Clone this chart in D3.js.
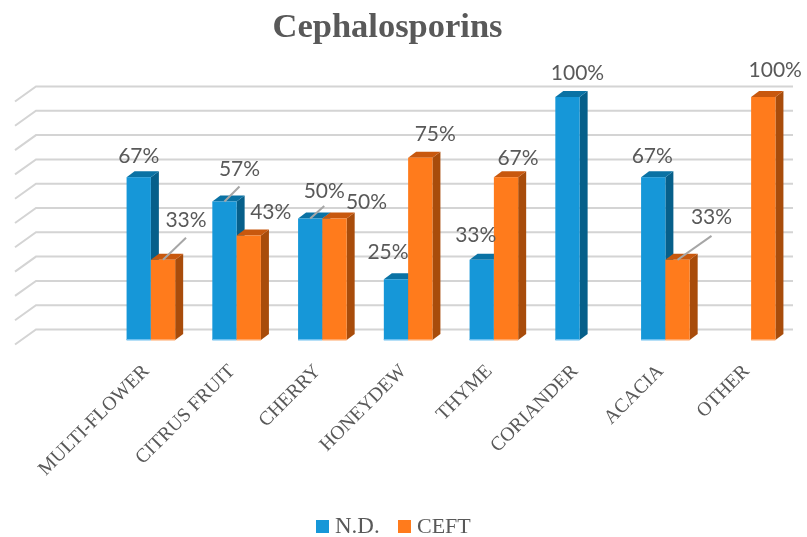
<!DOCTYPE html>
<html>
<head>
<meta charset="utf-8">
<script src="https://cdn.jsdelivr.net/npm/d3@7"></script>
<style>
  html, body { margin: 0; padding: 0; background: #fff; overflow: hidden; }
  svg { filter: blur(0.45px); }
</style>
</head>
<body>
<div id="chart"></div>
<script>
const categories = ["MULTI-FLOWER", "CITRUS FRUIT", "CHERRY", "HONEYDEW", "THYME", "CORIANDER", "ACACIA", "OTHER"];
const seriesNames = ["N.D.", "CEFT"];
const ndValues = [67, 57, 50, 25, 33, 100, 67, 0];
const ceftValues = [33, 43, 50, 75, 67, 0, 33, 100];

const width = 807, height = 537;
const depthX = 8, depthY = 6;
const serif = "'Liberation Serif', serif";
const textColor = "#595959";

const colors = {
    "N.D.": {front: "#1697d8", side: "#065f8a", top: "#0a72a4", edge: "#6cc0f0"},
    "CEFT": {front: "#ff7b1c", side: "#a84c0b", top: "#c8580e", edge: "#ffa566"}
};

const svg = d3.select("#chart")
  .append("svg")
    .attr("width", width)
    .attr("height", height)
    .style("display", "block");

// Scales
const x = d3.scaleBand().domain(categories).range([108, 794]);
const xSeries = d3.scaleBand().domain(seriesNames).range([0, x.bandwidth()]).paddingOuter(0.765).paddingInner(0);
const y = d3.scaleLinear().domain([0, 100]).range([340, 97]);

svg.append("text")
    .attr("x", 387.5)
    .attr("y", 37)
    .attr("text-anchor", "middle")
    .attr("font-family", serif)
    .attr("font-weight", "bold")
    .attr("font-size", 34.5)
    .attr("fill", textColor)
    .text("Cephalosporins");

// back wall lines and the slanted floor part
const grid = svg.append("g")
    .attr("fill", "none")
    .attr("stroke", "#d4d4d4")
    .attr("stroke-width", 2);

y.ticks(10).forEach(t => {
    const yb = y(t) - 10.5;
    grid.append("path").attr("d", `M15,${yb + 15}L36,${yb}L793,${yb}`);
});

// bars, N.D. first so CEFT sits over its side face
const seriesValues = {"N.D.": ndValues, "CEFT": ceftValues};

seriesNames.forEach(name => {
    const c = colors[name];
    const g = svg.append("g");
    categories.forEach((cat, i) => {
        const v = seriesValues[name][i];
        if (v === 0) return;
        const x0 = x(cat) + xSeries(name);
        const x1 = x0 + xSeries.bandwidth();
        const yTop = y(v), yBase = y(0);
        g.append("path").attr("fill", c.side)
            .attr("d", `M${x1},${yTop}L${x1 + depthX},${yTop - depthY}L${x1 + depthX},${yBase - depthY}L${x1},${yBase}Z`);
        g.append("path").attr("fill", c.top)
            .attr("d", `M${x0},${yTop}L${x0 + depthX},${yTop - depthY}L${x1 + depthX},${yTop - depthY}L${x1},${yTop}Z`);
        g.append("rect").attr("fill", c.front)
            .attr("x", x0).attr("y", yTop)
            .attr("width", xSeries.bandwidth()).attr("height", yBase - yTop);
        g.append("rect").attr("fill", c.edge)
            .attr("x", x0).attr("y", yBase - 1)
            .attr("width", xSeries.bandwidth()).attr("height", 1.5);
    });
});

// label placement relative to the top of each bar: [dx, dy, leader end dx, leader end dy]
const ndLabelPlace = [[0, -14.5], [15, -25, 15, -15], [14, -21, 14, -12.5], [-8, -20.5], [-6, -17.5], [10, -17], [-1, -14.5], null];
const ceftLabelPlace = [[23, -32.5, 23, -22], [22, -16.5], [32, -9.5], [15, -17], [12, -12.5], null, [34, -36, 34, -24], [12, -20]];
const labelPlace = {"N.D.": ndLabelPlace, "CEFT": ceftLabelPlace};

const labels = svg.append("g")
    .attr("font-family", "Lato, sans-serif")
    .attr("font-size", 21)
    .attr("fill", textColor)
    .attr("text-anchor", "middle");

seriesNames.forEach(name => {
    categories.forEach((cat, i) => {
        const v = seriesValues[name][i];
        if (v === 0) return;
        const p = labelPlace[name][i];
        const cx = x(cat) + xSeries(name) + xSeries.bandwidth() / 2;
        const cy = y(v);
        if (p.length > 2) {
            labels.append("line")
                .attr("x1", cx).attr("y1", cy)
                .attr("x2", cx + p[2]).attr("y2", cy + p[3])
                .attr("stroke", "#a6a6a6")
                .attr("stroke-width", 2);
        }
        labels.append("text")
            .attr("x", cx + p[0])
            .attr("y", cy + p[1])
            .text(v + "%");
    });
});

// category axis, tilted
const xAxis = svg.append("g")
    .attr("transform", "translate(0,372)")
    .call(d3.axisBottom(x).tickSize(0).tickPadding(0));
xAxis.select(".domain").remove();
xAxis.selectAll("text")
    .attr("font-family", serif)
    .attr("font-size", 19.6)
    .attr("fill", textColor)
    .attr("text-anchor", "end")
    .attr("dy", 0)
    .attr("transform", "translate(-1,0) rotate(-45)");

// legend
const legendX = {"N.D.": 316, "CEFT": 398};
const legendSize = {"N.D.": 23, "CEFT": 22};
seriesNames.forEach(name => {
    svg.append("rect")
        .attr("x", legendX[name]).attr("y", 520)
        .attr("width", 13).attr("height", 13)
        .attr("fill", colors[name].front);
    svg.append("text")
        .attr("x", legendX[name] + 19).attr("y", 533)
        .attr("font-family", serif)
        .attr("font-size", legendSize[name])
        .attr("fill", textColor)
        .text(name);
});
</script>
</body>
</html>
